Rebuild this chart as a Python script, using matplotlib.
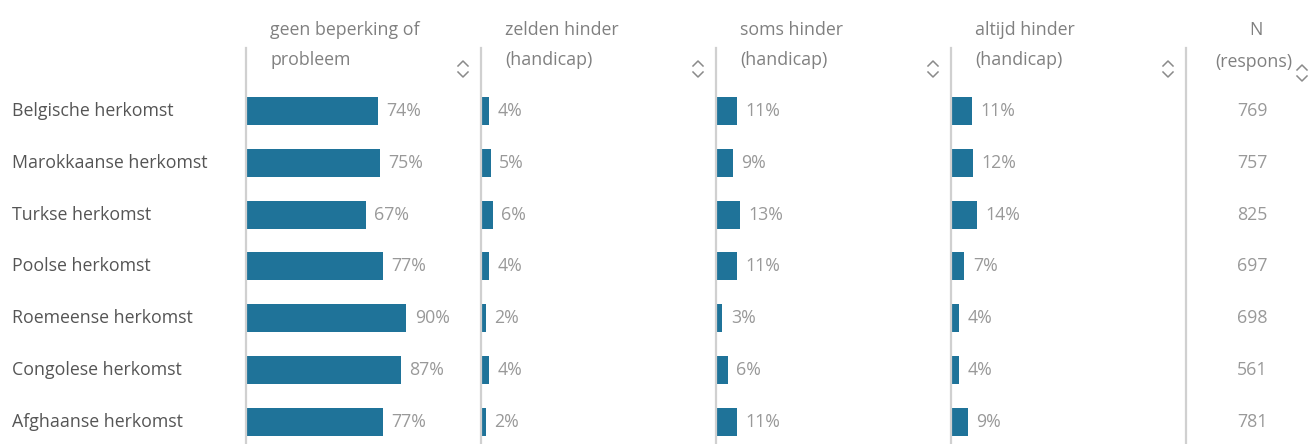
import matplotlib
matplotlib.use('Agg')
import matplotlib.pyplot as plt

plt.rcParams['font.family'] = ['Open Sans', 'DejaVu Sans']

categories = ['Belgische herkomst', 'Marokkaanse herkomst', 'Turkse herkomst',
              'Poolse herkomst', 'Roemeense herkomst', 'Congolese herkomst',
              'Afghaanse herkomst']
geen_beperking = [74, 75, 67, 77, 90, 87, 77]
zelden_hinder = [4, 5, 6, 4, 2, 4, 2]
soms_hinder = [11, 9, 13, 11, 3, 6, 11]
altijd_hinder = [11, 12, 14, 7, 4, 4, 9]
n_respons = [769, 757, 825, 697, 698, 561, 781]

headers = [('geen beperking of', 'probleem'),
           ('zelden hinder', '(handicap)'),
           ('soms hinder', '(handicap)'),
           ('altijd hinder', '(handicap)')]

W, H = 1313, 444
BAR_COLOR = '#1f7399'
LINE_COLOR = '#d0d0d0'
LABEL_COLOR = '#555555'
VALUE_COLOR = '#999999'
HEAD_COLOR = '#808080'
FS = 12.8

fig = plt.figure(figsize=(W / 100, H / 100), dpi=100)

# pixel layout helpers (top-left origin)
def fx(px):
    return px / W

def fy(py):
    return 1 - py / H

top_px, bot_px = 48, 444
row0, row_step = 111, 51.8
col_left = [246, 481, 716, 951]
col_w = 235
px_per_pct = 1.77

ylim = ((bot_px - row0) / row_step, -(row0 - top_px) / row_step)


def draw_chevron(xc, yc):
    # small sort icon: up chevron above down chevron
    xs = [fx(xc - 5), fx(xc), fx(xc + 5)]
    up = [fy(yc - 3), fy(yc - 8), fy(yc - 3)]
    down = [fy(yc + 3), fy(yc + 8), fy(yc + 3)]
    for ys in (up, down):
        fig.add_artist(plt.Line2D(xs, ys, color='#8a8a8a', lw=1.1,
                                  transform=fig.transFigure))


series = [geen_beperking, zelden_hinder, soms_hinder, altijd_hinder]
rows = list(range(len(categories)))

for k, vals in enumerate(series):
    left = col_left[k]
    ax = fig.add_axes([fx(left), fy(bot_px), col_w / W, (bot_px - top_px) / H])
    ax.barh(rows, vals, height=0.54, color=BAR_COLOR, left=0.6)
    for i, v in enumerate(vals):
        ax.annotate(f'{v}%', (v + 0.6, i), xytext=(6, 0), textcoords='offset points',
                    ha='left', va='center', fontsize=FS, color=VALUE_COLOR)
    ax.set_xlim(0, col_w / px_per_pct)
    ax.set_ylim(*ylim)
    for s in ['top', 'right', 'bottom']:
        ax.spines[s].set_visible(False)
    ax.spines['left'].set_color(LINE_COLOR)
    ax.spines['left'].set_linewidth(1.6)
    ax.set_xticks([])
    ax.set_yticks([])
    ax.patch.set_alpha(0)
    # header
    fig.text(fx(left + 24), fy(30), headers[k][0], fontsize=FS, color=HEAD_COLOR,
             ha='left', va='center')
    fig.text(fx(left + 24), fy(60), headers[k][1], fontsize=FS, color=HEAD_COLOR,
             ha='left', va='center')
    draw_chevron(left + 217, 69)

# N column
axn = fig.add_axes([fx(1186), fy(bot_px), (W - 1186) / W, (bot_px - top_px) / H])
axn.set_xlim(0, 1)
axn.set_ylim(*ylim)
for i, n in enumerate(n_respons):
    axn.text(0.52, i, str(n), ha='center', va='center', fontsize=FS, color=VALUE_COLOR)
for s in ['top', 'right', 'bottom']:
    axn.spines[s].set_visible(False)
axn.spines['left'].set_color(LINE_COLOR)
axn.spines['left'].set_linewidth(1.6)
axn.set_xticks([])
axn.set_yticks([])
axn.patch.set_alpha(0)
fig.text(fx(1256), fy(30), 'N', fontsize=FS, color=HEAD_COLOR, ha='center', va='center')
fig.text(fx(1254), fy(62), '(respons)', fontsize=FS, color=HEAD_COLOR, ha='center', va='center')
draw_chevron(1302, 73)

# row labels
for i, c in enumerate(categories):
    fig.text(fx(12), fy(row0 + row_step * i), c, fontsize=FS, color=LABEL_COLOR,
             ha='left', va='center')

fig.savefig('out.png', dpi=100)
